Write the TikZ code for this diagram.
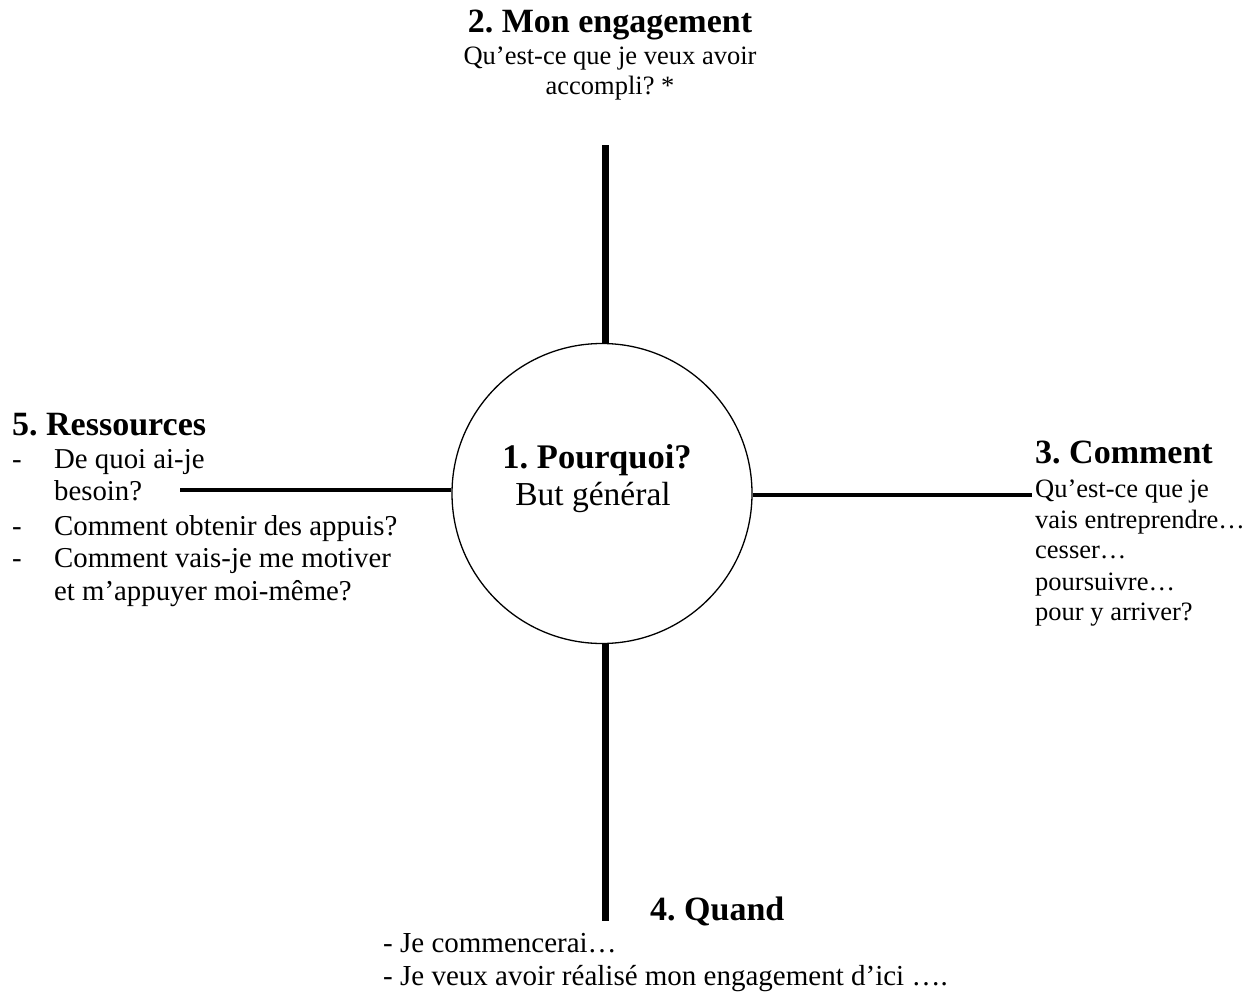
\documentclass[tikz,border=0pt]{standalone}
\usepackage{fontspec}
\setmainfont{Liberation Serif}
\begin{document}
\begin{tikzpicture}[x=1pt,y=-1pt,
  head/.style={inner sep=0pt, font=\fontsize{34}{38}\selectfont\bfseries\frenchspacing},
  body/.style={inner sep=0pt, font=\fontsize{26.5}{30}\selectfont\frenchspacing},
  vbar/.style={line width=7pt},
  hbar/.style={line width=4pt},
]
\useasboundingbox (0,0) rectangle (1257,992);

% central circle
\node[draw, circle, line width=1.3pt, minimum size=300pt, inner sep=0pt] (circ) at (602,493.5) {};
\node[anchor=base, inner sep=0pt, font=\fontsize{34.5}{38}\selectfont\bfseries\frenchspacing] (why) at (597,468) {1. Pourquoi?};
\node[anchor=base, inner sep=0pt, font=\fontsize{33.5}{38}\selectfont] (goal) at (593,505) {But général};

% 2. top
\node[head, anchor=base] (t2) at (610,33) {2. Mon engagement};
\node[body, anchor=base] (t2a) at (610,65) {Qu’est-ce que je veux avoir};
\node[body, anchor=base] (t2b) at (610,95) {accompli? *};

% 3. right
\node[head, anchor=base west] (t3) at (1035,463) {3. Comment};
\node[body, anchor=base west] (t3a) at (1035,497) {Qu’est-ce que je};
\node[body, anchor=base west] (t3b) at (1035,528) {vais entreprendre…};
\node[body, anchor=base west] (t3c) at (1035,558) {cesser…};
\node[body, anchor=base west] (t3d) at (1035,590) {poursuivre…};
\node[body, anchor=base west] (t3e) at (1035,620) {pour y arriver?};

% 4. bottom
\node[head, anchor=base west] (t4) at (650,920) {4. Quand};
\node[body, font=\fontsize{29}{30}\selectfont, anchor=base west] (t4a) at (383,952) {- Je commencerai…};
\node[body, font=\fontsize{29}{30}\selectfont, anchor=base west] (t4b) at (383,985) {- Je veux avoir réalisé mon engagement d’ici ….};

% 5. left
\node[head, anchor=base west] (t5) at (12,435) {5. Ressources};
\begin{scope}[every node/.style={body, font=\fontsize{28.8}{30}\selectfont, anchor=base west}]
\node (d1) at (12,468) {-};
\node (t5a) at (54,468) {De quoi ai-je};
\node (t5b) at (54,500) {besoin?};
\node (d2) at (12,535) {-};
\node (t5c) at (54,535) {Comment obtenir des appuis?};
\node (d3) at (12,567) {-};
\node (t5d) at (54,567) {Comment vais-je me motiver};
\node (t5e) at (54,600) {et m’appuyer moi-même?};
\end{scope}

% spokes
\coordinate (topend) at (605,145);
\coordinate (botend) at (605,921);
\coordinate (leftend) at (180,490);
\coordinate (rightend) at (1032,495);
\draw[vbar] (circ.north -| topend) -- (topend);
\draw[vbar] (circ.south -| botend) -- (botend);
\draw[hbar] (circ.west |- leftend) -- (leftend);
\draw[hbar] (circ.east |- rightend) -- (rightend);
\end{tikzpicture}
\end{document}
